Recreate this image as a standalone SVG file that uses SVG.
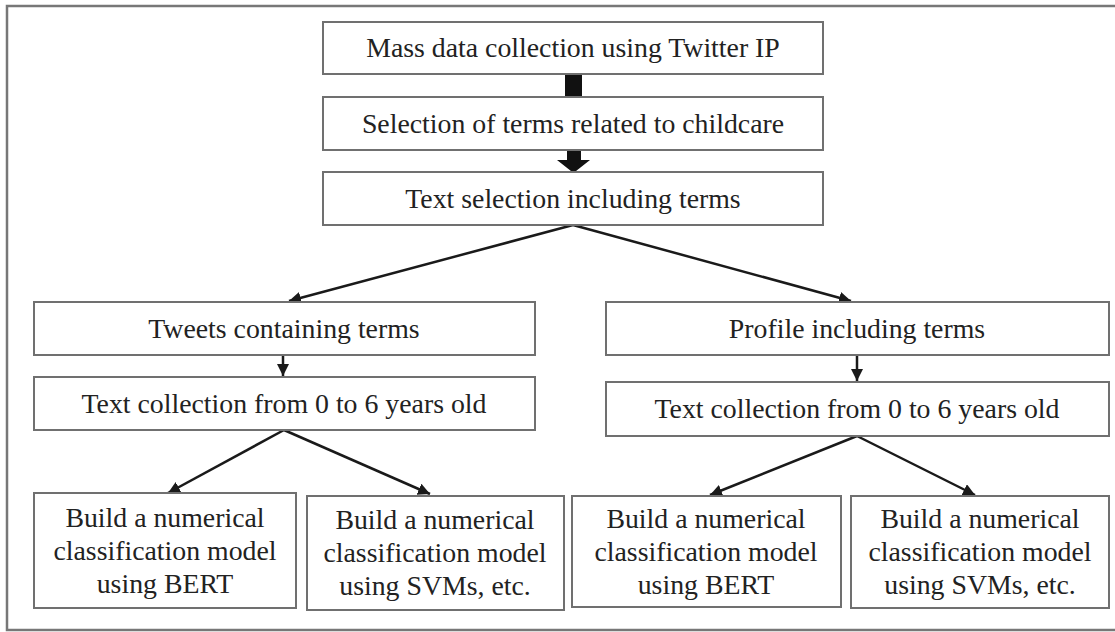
<svg xmlns="http://www.w3.org/2000/svg" width="1115" height="632" viewBox="0 0 1115 632">
<defs>
<style>
.box{fill:#fff;stroke:#707070;stroke-width:2}
.t{font-family:"Liberation Serif","Times New Roman",serif;font-size:27.8px;fill:#222;text-anchor:middle}
.ln{stroke:#1a1a1a;stroke-width:2.5;fill:none}
.frame{fill:none;stroke:#777;stroke-width:2.5}
</style>
<marker id="ah" markerUnits="userSpaceOnUse" markerWidth="14" markerHeight="12" refX="12" refY="6" orient="auto">
<path d="M0,0 L12,6 L0,12 Z" fill="#1a1a1a"/>
</marker>
</defs>
<rect width="1115" height="632" fill="#fff"/>
<rect class="frame" x="7" y="6" width="1120" height="624"/>

<g id="connectors">
<rect x="565" y="74" width="17" height="23" fill="#111"/>
<path d="M567,149 L581,149 L581,160 L590,160 L573.5,173 L557,160 L567,160 Z" fill="#111"/>
<line class="ln" x1="573" y1="225" x2="289" y2="301" marker-end="url(#ah)"/>
<line class="ln" x1="573" y1="225" x2="851" y2="301" marker-end="url(#ah)"/>
<line class="ln" x1="283" y1="344" x2="283" y2="376" marker-end="url(#ah)"/>
<line class="ln" x1="857" y1="356" x2="857" y2="381" marker-end="url(#ah)"/>
<line class="ln" x1="284" y1="430" x2="168" y2="493" marker-end="url(#ah)"/>
<line class="ln" x1="284" y1="430" x2="430" y2="494" marker-end="url(#ah)"/>
<line class="ln" x1="857" y1="436" x2="710" y2="495" marker-end="url(#ah)"/>
<line class="ln" x1="857" y1="436" x2="975" y2="495" marker-end="url(#ah)"/>
</g>

<g id="n1"><rect class="box" x="323" y="22" width="500" height="52"/><text class="t" x="573" y="57">Mass data collection using Twitter IP</text></g>
<g id="n2"><rect class="box" x="323" y="97" width="500" height="53"/><text class="t" x="573" y="133">Selection of terms related to childcare</text></g>
<g id="n3"><rect class="box" x="323" y="172" width="500" height="53"/><text class="t" x="573" y="208">Text selection including terms</text></g>
<g id="n4"><rect class="box" x="34" y="302" width="501" height="53"/><text class="t" x="284" y="338">Tweets containing terms</text></g>
<g id="n5"><rect class="box" x="34" y="377" width="501" height="53"/><text class="t" x="284" y="413">Text collection from 0 to 6 years old</text></g>
<g id="n6"><rect class="box" x="606" y="302" width="503" height="53"/><text class="t" x="857" y="338">Profile including terms</text></g>
<g id="n7"><rect class="box" x="606" y="382" width="503" height="54"/><text class="t" x="857" y="418">Text collection from 0 to 6 years old</text></g>
<g id="n8"><rect class="box" x="34" y="493" width="262" height="115"/><text class="t" x="165" y="527">Build a numerical</text><text class="t" x="165" y="560">classification model</text><text class="t" x="165" y="593">using BERT</text></g>
<g id="n9"><rect class="box" x="307" y="496" width="257" height="114"/><text class="t" x="435" y="529">Build a numerical</text><text class="t" x="435" y="562">classification model</text><text class="t" x="435" y="595">using SVMs, etc.</text></g>
<g id="n10"><rect class="box" x="572" y="496" width="269" height="111"/><text class="t" x="706" y="528">Build a numerical</text><text class="t" x="706" y="561">classification model</text><text class="t" x="706" y="594">using BERT</text></g>
<g id="n11"><rect class="box" x="851" y="496" width="258" height="112"/><text class="t" x="980" y="528">Build a numerical</text><text class="t" x="980" y="561">classification model</text><text class="t" x="980" y="594">using SVMs, etc.</text></g>
</svg>
